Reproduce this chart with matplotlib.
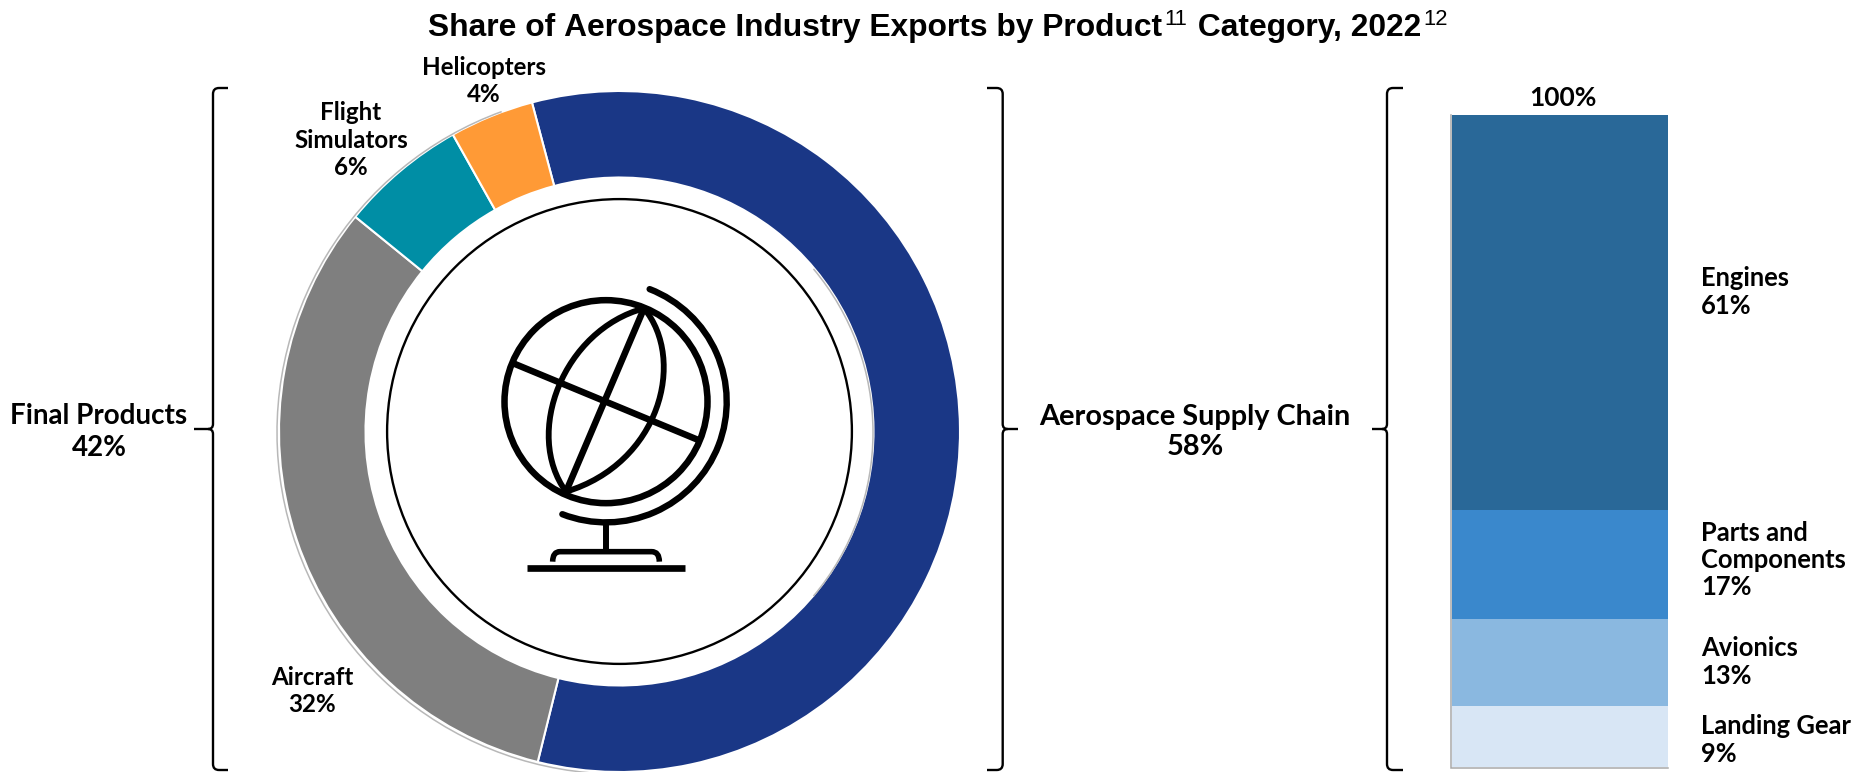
import matplotlib
matplotlib.use("Agg")
import matplotlib.pyplot as plt
from matplotlib.path import Path
from matplotlib.patches import PathPatch, Circle, Arc

W, H = 1871, 772
ring_names = ["Aerospace Supply Chain", "Aircraft", "Flight Simulators", "Helicopters"]
ring_values = [58, 32, 6, 4]
ring_colors = ["#1a3786", "#7f7f7f", "#008ea5", "#ff9a36"]
bar_names = ["Landing Gear", "Avionics", "Parts and Components", "Engines"]
bar_values = [9.4, 13.3, 16.7, 60.6]
bar_colors = ["#d8e6f5", "#8ab8e0", "#3a88cc", "#296898"]

LABEL = "Lato"
fig = plt.figure(figsize=(W / 100, H / 100), dpi=100, facecolor="white")

def axes_px(x0, y0, x1, y1):
    return fig.add_axes([x0 / W, 1 - y1 / H, (x1 - x0) / W, (y1 - y0) / H])

# donut
cx, cy, R, Ri = 619.5, 431.5, 340.5, 254
span = 1.25 * R
ax = axes_px(cx - span, cy - span, cx + span, cy + span)
ax.pie(ring_values, colors=ring_colors, startangle=104.9, counterclock=False,
       wedgeprops=dict(width=(R - Ri) / R, edgecolor="white", linewidth=1.5))
off = -1 / R
ax.add_patch(Arc((off, off), 2 * 341.5 / R, 2 * 341.5 / R, theta1=110, theta2=265, ec="#b8b8b8", lw=1.1, zorder=5))
ax.add_patch(Arc((off, off), 2 * 254.5 / R, 2 * 254.5 / R, theta1=-40, theta2=40, ec="#b8b8b8", lw=1.1, zorder=5))
ax.patch.set_alpha(0)

# stacked bar
bax = axes_px(1452, 115, 1668, 767)
bottom = 0
for v, c in zip(bar_values, bar_colors):
    bax.bar(0, v, bottom=bottom, width=1, color=c, linewidth=0)
    bottom += v
bax.set_xlim(-0.5, 0.5)
bax.set_ylim(0, 100)
bax.axis("off")

# overlay in pixel coordinates
ov = fig.add_axes([0, 0, 1, 1])
ov.set_xlim(0, W)
ov.set_ylim(H, 0)
ov.axis("off")
ov.patch.set_alpha(0)

ov.plot([1451.2, 1451.2, 1668], [115, 767.6, 767.6], color="#a8a8a8", lw=1.1, solid_joinstyle="miter")
ov.add_patch(Circle((cx, cy), 232.4, fill=False, ec="black", lw=1.7))

def stroke(verts, codes=None, lw=4.0, cap="round"):
    ov.add_patch(PathPatch(Path(verts, codes), fill=False, ec="black", lw=lw, capstyle=cap, joinstyle="round"))

def z(x, y):
    return (480 + x / 3, 260 + y / 3)

gx, gy = z(378, 425)
ov.add_patch(Circle((gx, gy), 101.5, fill=False, ec="black", lw=4.7))
ov.add_patch(Arc((gx, gy), 2 * 120.7, 2 * 120.7, theta1=-68.8, theta2=111.2, ec="black", lw=4.6, capstyle="round"))
stroke([z(492, 145), z(258, 695)], lw=4.7)
stroke([z(100, 310), z(655, 540)], lw=4.7)
C4 = [Path.MOVETO, Path.CURVE4, Path.CURVE4, Path.CURVE4]
stroke([z(492, 145), z(250, 210), z(130, 520), z(258, 695)], C4, lw=4.2)
stroke([z(492, 145), z(620, 300), z(540, 610), z(258, 695)], C4, lw=4.2)
stroke([z(378, 790), z(378, 875)], lw=4.3, cap="butt")
stroke([z(218, 905), z(218, 875), z(240, 875), z(515, 875), z(538, 875), z(538, 905)],
       [Path.MOVETO, Path.CURVE3, Path.CURVE3, Path.LINETO, Path.CURVE3, Path.CURVE3], lw=4.0, cap="butt")
stroke([z(140, 925), z(615, 925)], lw=4.8, cap="butt")

def bracket(xv, xtip, xmid, y0=88, ym=429, y1=770, lw=1.7):
    r = 6 if xtip > xv else -6
    d = 5 if xmid > xv else -5
    M, L, Q = Path.MOVETO, Path.LINETO, Path.CURVE3
    v = [(xtip, y0), (xv + r, y0), (xv, y0), (xv, y0 + 6), (xv, ym - 5), (xv, ym), (xv + d, ym), (xmid, ym),
         (xv + d, ym), (xv, ym), (xv, ym + 5), (xv, y1 - 6), (xv, y1), (xv + r, y1), (xtip, y1)]
    c = [M, L, Q, Q, L, Q, Q, L, M, Q, Q, L, Q, Q, L]
    ov.add_patch(PathPatch(Path(v, c), fill=False, ec="black", lw=lw))

bracket(213, 228, 194)
bracket(1002.7, 987, 1018)
bracket(1387, 1403, 1372)

def label(x, y, s, size=17.5, ha="center", sp=1.25):
    ov.text(x, y, s, ha=ha, va="center", fontsize=size, fontweight="bold", family=LABEL,
            color="black", linespacing=sp, multialignment=ha)

label(99, 432, "Final Products\n42%", size=20)
label(1195, 432, "Aerospace Supply Chain\n58%", size=20.8, sp=1.16)
label(484, 81, "Helicopters\n4%", size=17.4)
label(351, 140, "Flight\nSimulators\n6%", size=17.4)
label(312, 691, "Aircraft\n32%", size=17.4)
label(1563, 98, "100%", size=19)
label(1701, 292, "Engines\n61%", size=18.4, ha="left", sp=1.17)
label(1701, 560, "Parts and\nComponents\n17%", size=18.4, ha="left", sp=1.17)
label(1701, 662, "Avionics\n13%", size=18.4, ha="left", sp=1.17)
label(1701, 740, "Landing Gear\n9%", size=18.4, ha="left", sp=1.17)

# title in pieces, so the reference marks stay real superscript text
T = "Liberation Sans"
pieces = [("Share of Aerospace Industry Exports by Product", True, 0),
          ("11", False, -11), (" Category, 2022", True, 0), ("12", False, -11)]
fig.canvas.draw()
rend = fig.canvas.get_renderer()
x = 428.5
for s, bold, dy in pieces:
    t = ov.text(x, 36 + dy, s.replace(" ", "\u00a0"), ha="left", va="baseline", family=T,
                fontsize=22.85 if bold else 15.8,
                fontweight="bold" if bold else "normal", color="black")
    x = t.get_window_extent(rend).x1 + (1.5 if not bold else 2)

fig.savefig("out.png", dpi=100, facecolor="white")
